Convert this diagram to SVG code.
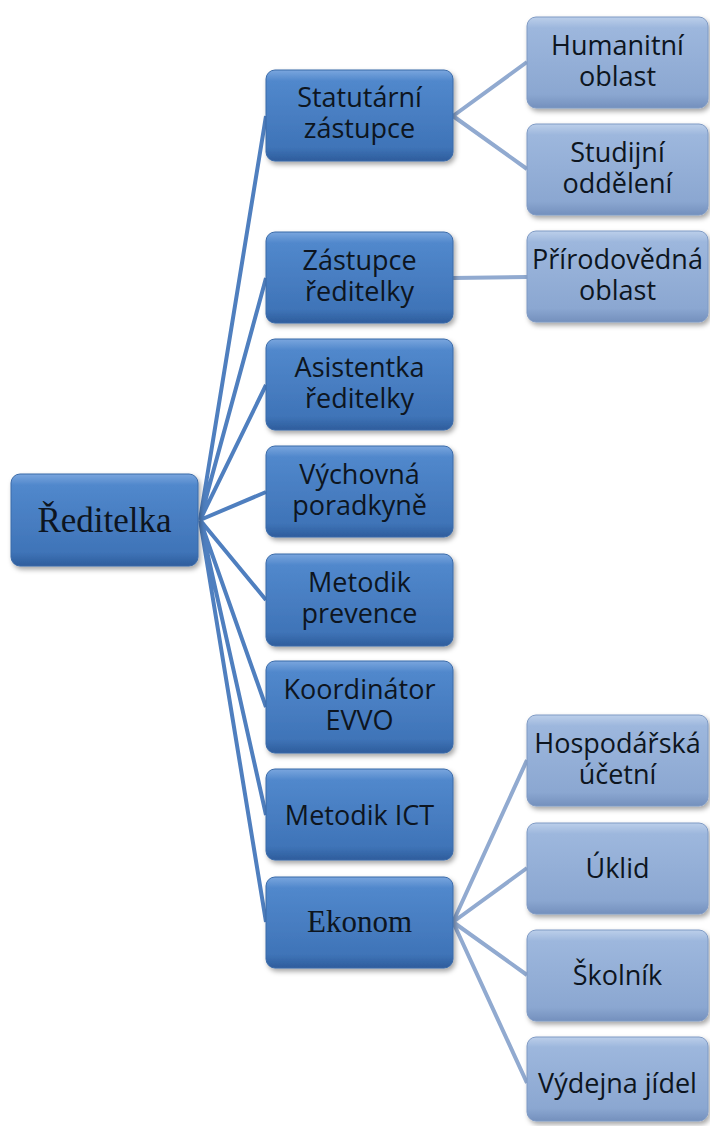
<svg xmlns="http://www.w3.org/2000/svg" width="710" height="1126" viewBox="0 0 710 1126">
<defs>
<linearGradient id="g1" x1="0" y1="0" x2="0" y2="1">
<stop offset="0" stop-color="#7aa6de"/>
<stop offset="0.12" stop-color="#5188cc"/>
<stop offset="0.85" stop-color="#3f74b8"/>
<stop offset="1" stop-color="#2e5d9c"/>
</linearGradient>
<linearGradient id="g2" x1="0" y1="0" x2="0" y2="1">
<stop offset="0" stop-color="#bccfea"/>
<stop offset="0.12" stop-color="#9db7dd"/>
<stop offset="0.85" stop-color="#8ba7d1"/>
<stop offset="1" stop-color="#7490bd"/>
</linearGradient>
<filter id="sh" x="-10%" y="-10%" width="125%" height="130%">
<feDropShadow dx="2" dy="3" stdDeviation="2.5" flood-color="#000" flood-opacity="0.35"/>
</filter>
<style>
.n1 rect{fill:url(#g1);stroke:#3a6aa8;stroke-width:1;filter:url(#sh)}
.n2 rect{fill:url(#g2);stroke:#7f9ac4;stroke-width:1;filter:url(#sh)}
.t{font-family:"Open Sans","Noto Sans",sans-serif;font-size:27px;fill:#0d1520;text-anchor:middle}
.s{font-family:"Liberation Serif","Times New Roman",serif;fill:#0d1520;text-anchor:middle}
.c1{stroke:#4f7fbf;stroke-width:4;fill:none}
.c2{stroke:#91aad0;stroke-width:4;fill:none}
</style>
</defs>
<rect width="710" height="1126" fill="#fff"/>
<g id="connectors">
<path class="c1" d="M200 520L266 116M200 520L266 278M200 520L266 385M200 520L266 492M200 520L266 600M200 520L266 707M200 520L266 815M200 520L266 922"/>
<path class="c2" d="M453 116L527 62M453 116L527 169M453 278L527 277M453 922L527 760M453 922L527 868M453 922L527 975M453 922L527 1083"/>
</g>
<g id="reditelka" class="n1"><rect x="11" y="474" width="187" height="92" rx="9"/><text class="s" x="104.5" y="532" font-size="35">Ředitelka</text></g>
<g id="statutarni" class="n1"><rect x="266" y="70" width="187" height="91" rx="9"/><text class="t" x="359.5" y="107">Statutární</text><text class="t" x="359.5" y="138">zástupce</text></g>
<g id="zastupce" class="n1"><rect x="266" y="232" width="187" height="91" rx="9"/><text class="t" x="359.5" y="270">Zástupce</text><text class="t" x="359.5" y="301">ředitelky</text></g>
<g id="asistentka" class="n1"><rect x="266" y="339" width="187" height="91" rx="9"/><text class="t" x="359.5" y="377">Asistentka</text><text class="t" x="359.5" y="408">ředitelky</text></g>
<g id="vychovna" class="n1"><rect x="266" y="446" width="187" height="91" rx="9"/><text class="t" x="359.5" y="484">Výchovná</text><text class="t" x="359.5" y="515">poradkyně</text></g>
<g id="metodik-prevence" class="n1"><rect x="266" y="554" width="187" height="92" rx="9"/><text class="t" x="359.5" y="592">Metodik</text><text class="t" x="359.5" y="623">prevence</text></g>
<g id="koordinator" class="n1"><rect x="266" y="661" width="187" height="92" rx="9"/><text class="t" x="359.5" y="699">Koordinátor</text><text class="t" x="359.5" y="730">EVVO</text></g>
<g id="metodik-ict" class="n1"><rect x="266" y="769" width="187" height="91" rx="9"/><text class="t" x="359.5" y="825">Metodik ICT</text></g>
<g id="ekonom" class="n1"><rect x="266" y="877" width="187" height="91" rx="9"/><text class="s" x="359.5" y="932" font-size="31">Ekonom</text></g>
<g id="humanitni" class="n2"><rect x="527" y="17" width="181" height="91" rx="9"/><text class="t" x="617.5" y="55">Humanitní</text><text class="t" x="617.5" y="86">oblast</text></g>
<g id="studijni" class="n2"><rect x="527" y="124" width="181" height="91" rx="9"/><text class="t" x="617.5" y="162">Studijní</text><text class="t" x="617.5" y="193">oddělení</text></g>
<g id="prirodovedna" class="n2"><rect x="527" y="231" width="181" height="91" rx="9"/><text class="t" x="617.5" y="269">Přírodovědná</text><text class="t" x="617.5" y="300">oblast</text></g>
<g id="hospodarska" class="n2"><rect x="527" y="715" width="181" height="91" rx="9"/><text class="t" x="617.5" y="753">Hospodářská</text><text class="t" x="617.5" y="784">účetní</text></g>
<g id="uklid" class="n2"><rect x="527" y="823" width="181" height="91" rx="9"/><text class="t" x="617.5" y="878">Úklid</text></g>
<g id="skolnik" class="n2"><rect x="527" y="930" width="181" height="91" rx="9"/><text class="t" x="617.5" y="985">Školník</text></g>
<g id="vydejna" class="n2"><rect x="527" y="1037" width="181" height="84" rx="9"/><text class="t" x="617.5" y="1093">Výdejna jídel</text></g>
</svg>
